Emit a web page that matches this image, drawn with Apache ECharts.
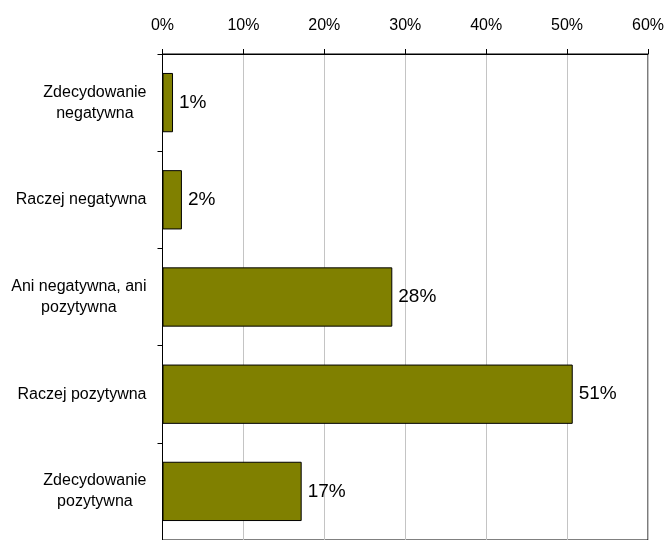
<!DOCTYPE html>
<html>
<head>
<meta charset="utf-8">
<script src="https://cdn.jsdelivr.net/npm/echarts@6/dist/echarts.min.js"></script>
<style>
  html, body { margin: 0; padding: 0; background: #fff; }
  #chart { width: 667px; height: 540px; }
</style>
</head>
<body>
<div id="chart"></div>
<script>
// Survey answers, top to bottom
const categories = [
  'Zdecydowanie\nnegatywna',
  'Raczej negatywna',
  'Ani negatywna, ani\npozytywna',
  'Raczej pozytywna',
  'Zdecydowanie\npozytywna'
];
// Share of answers, percent
const shares = [1.3, 2.4, 28.4, 50.7, 17.2];
// Percent axis ticks
const tickValues = [0, 10, 20, 30, 40, 50, 60];

const font = '"Liberation Sans", Arial, sans-serif';

const chart = echarts.init(document.getElementById('chart'), null, { renderer: 'canvas' });

chart.setOption({
  animation: false,
  backgroundColor: '#ffffff',
  grid: {
    left: 162.5,
    right: 17,
    top: 54,
    bottom: -5,
    show: true,
    borderColor: '#000',
    borderWidth: 1,
    containLabel: false
  },
  xAxis: {
    type: 'value',
    position: 'top',
    min: tickValues[0],
    max: tickValues[tickValues.length - 1],
    interval: 10,
    axisLine: { show: true, lineStyle: { color: '#000', width: 1 } },
    axisTick: { show: true, length: 5, lineStyle: { color: '#000', width: 1 } },
    splitLine: { show: true, lineStyle: { color: '#c4c4c4', width: 1 } },
    axisLabel: {
      margin: 20,
      color: '#000',
      fontFamily: font,
      fontSize: 16,
      formatter: v => v + '%'
    }
  },
  yAxis: {
    type: 'category',
    inverse: true,
    data: categories,
    axisLine: { show: true, lineStyle: { color: '#000', width: 1 } },
    axisTick: { show: true, length: 5, alignWithLabel: false, lineStyle: { color: '#000', width: 1 } },
    splitLine: { show: false },
    axisLabel: {
      margin: 16,
      color: '#000',
      fontFamily: font,
      fontSize: 16,
      lineHeight: 21,
      align: 'right',
      formatter: v => v.split('\n').map(s => '{c|' + s + '}').join('\n'),
      rich: {
        c: { align: 'center', fontFamily: font, fontSize: 16, lineHeight: 21, color: '#000' }
      }
    }
  },
  series: [{
    type: 'bar',
    data: shares,
    barCategoryGap: '39%',
    itemStyle: { color: '#808000', borderColor: '#000', borderWidth: 1 },
    label: {
      show: true,
      position: 'right',
      distance: 6,
      color: '#000',
      fontFamily: font,
      fontSize: 19,
      formatter: p => Math.round(p.value) + '%'
    }
  }]
});
</script>
</body>
</html>
